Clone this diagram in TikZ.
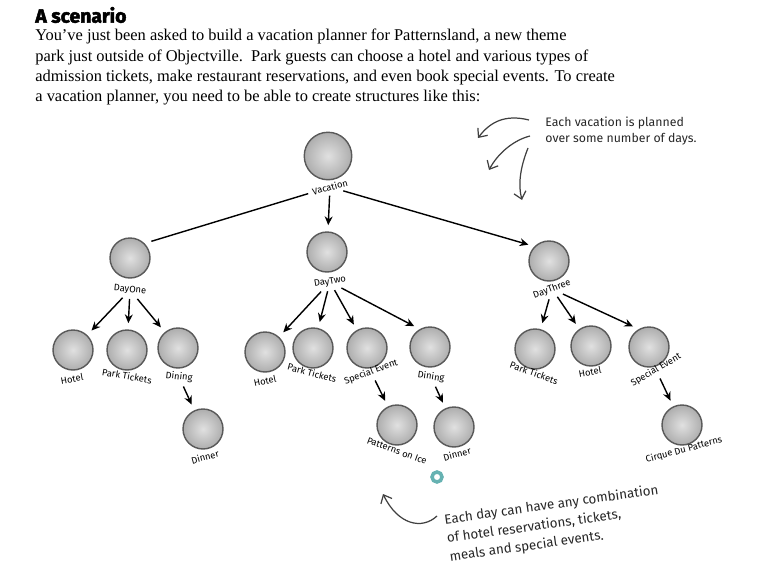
\documentclass[tikz,border=0pt]{standalone}
\usepackage{fontspec}
\setmainfont{Liberation Serif}
\newfontfamily\handfont{Fira Sans}
\newfontfamily\headfont{Fira Sans}[BoldFeatures={FakeBold=2.5}]
\usetikzlibrary{arrows.meta}

\tikzset{
  ball/.style={circle, minimum size=0.8cm, inner sep=0pt, draw=black!65, line width=0.8pt,
    inner color=black!12, outer color=black!32},
  bigball/.style={ball, minimum size=0.95cm},
  lbl/.style={font=\handfont\fontsize{5.3}{6}\selectfont, inner sep=1pt},
  tree/.style={->, line width=0.8pt, shorten >=3.5pt, shorten <=1.5pt},
  note/.style={font=\handfont\fontsize{7}{9}\selectfont, text=black!85, align=left, inner sep=0pt},
  hand/.style={-{Straight Barb[length=4pt,width=7pt]}, black!75, line width=0.7pt}
}

\begin{document}
\begin{tikzpicture}[x=0.02cm, y=-0.02cm, >={Stealth[length=5pt,width=4.5pt]}]
\useasboundingbox (0,0) rectangle (764,578);

% heading and text
\node[anchor=west, inner sep=0pt, font=\headfont\bfseries\fontsize{11}{13}\selectfont] (title) at (35,15) {A scenario};
\node[anchor=north west, inner sep=0pt, align=left, font=\fontsize{9.35}{11.5}\selectfont] (intro) at (35,29)
  {You've just been asked to build a vacation planner for Patternsland, a new theme\\
   park just outside of Objectville.\ \ Park guests can choose a hotel and various types of\\
   admission tickets, make restaurant reservations, and even book special events. To create\\
   a vacation planner, you need to be able to create structures like this:};

% the vacation and its days
\node[bigball] (vac) at (328,156) {};
\node[lbl, rotate=15] (vacl) at (330,187) {Vacation};
\node[ball] (d1) at (130,258) {};
\node[lbl, rotate=-5] (d1l) at (130,290) {DayOne};
\node[ball] (d2) at (327,252) {};
\node[lbl, rotate=10] (d2l) at (330,282) {DayTwo};
\node[ball] (d3) at (549,261) {};
\node[lbl, rotate=20] (d3l) at (552,289) {DayThree};

% day one
\node[ball] (d1hotel) at (73,350) {};
\node[lbl, rotate=10] (d1hotell) at (72,379) {Hotel};
\node[ball] (d1park) at (127,350) {};
\node[lbl, rotate=-10] (d1parkl) at (127,376) {Park Tickets};
\node[ball] (d1dining) at (178,348) {};
\node[lbl, rotate=-6] (d1diningl) at (179,377) {Dining};
\node[ball] (d1dinner) at (203,429) {};
\node[lbl, rotate=15] (d1dinnerl) at (205,457) {Dinner};

% day two
\node[ball] (d2hotel) at (265,352) {};
\node[lbl, rotate=12] (d2hotell) at (265,381) {Hotel};
\node[ball] (d2park) at (313,348) {};
\node[lbl, rotate=-15] (d2parkl) at (312,373) {Park Tickets};
\node[ball] (d2special) at (367,348) {};
\node[lbl, rotate=20] (d2speciall) at (371,372) {Special Event};
\node[ball] (d2dining) at (430,347) {};
\node[lbl, rotate=-8] (d2diningl) at (431,377) {Dining};
\node[ball] (d2ice) at (397,425) {};
\node[lbl, rotate=-20] (d2icel) at (397,451) {Patterns on Ice};
\node[ball] (d2dinner) at (454,427) {};
\node[lbl, rotate=15] (d2dinnerl) at (457,454) {Dinner};

% day three
\node[ball] (d3park) at (535,349) {};
\node[lbl, rotate=-20] (d3parkl) at (534,373) {Park Tickets};
\node[ball] (d3hotel) at (591,346) {};
\node[lbl, rotate=10] (d3hotell) at (590,372) {Hotel};
\node[ball] (d3special) at (649,347) {};
\node[lbl, rotate=30] (d3speciall) at (656,370) {Special Event};
\node[ball] (d3cirque) at (682,425) {};
\node[lbl, rotate=15] (d3cirquel) at (684,450) {Cirque Du Patterns};

% connectors
\draw[line width=0.8pt, shorten <=1.5pt, shorten >=4pt] (vacl) -- (d1.north east);
\draw[tree] (vacl) -- (d2);
\draw[tree] (vacl) -- (d3.north west);

\draw[tree] (d1l) -- (d1hotel);
\draw[tree] (d1l) -- (d1park);
\draw[tree] (d1l) -- (d1dining);
\draw[tree] (d1diningl) -- (d1dinner);

\draw[tree] (d2l) -- (d2hotel);
\draw[tree] (d2l) -- (d2park);
\draw[tree] (d2l) -- (d2special);
\draw[tree] (d2l) -- (d2dining.120);
\draw[tree] (d2speciall) -- (d2ice);
\draw[tree] (d2diningl) -- (d2dinner);

\draw[tree] (d3l) -- (d3park);
\draw[tree] (d3l) -- (d3hotel);
\draw[tree] (d3l) -- (d3special.120);
\draw[tree] (d3speciall) -- (d3cirque);

% notes
\node[note, anchor=west] (daysnote) at (545,131) {Each vacation is planned\\over some number of days.};
\coordinate (a1) at (478,138);
\coordinate (a2) at (489,170);
\coordinate (a3) at (522,200);
\draw[hand] (daysnote.west) ++(-16,-11) .. controls (505,114) and (490,122) .. (a1);
\draw[hand] (daysnote.west) ++(-15,5) .. controls (514,140) and (498,153) .. (a2);
\draw[hand] (daysnote.west) ++(-17,17) .. controls (520,168) and (518,185) .. (a3);

\node[note, rotate=8, font=\handfont\fontsize{7.6}{10.6}\selectfont] (combonote) at (554,524)
  {Each day can have any combination\\of hotel reservations, tickets,\\meals and special events.};
\coordinate (b1) at (383,494);
\draw[hand] (437,516) .. controls (422,530) and (398,525) .. (b1);

\draw[teal!60, line width=2pt] (437,477) circle (5);
\end{tikzpicture}
\end{document}
